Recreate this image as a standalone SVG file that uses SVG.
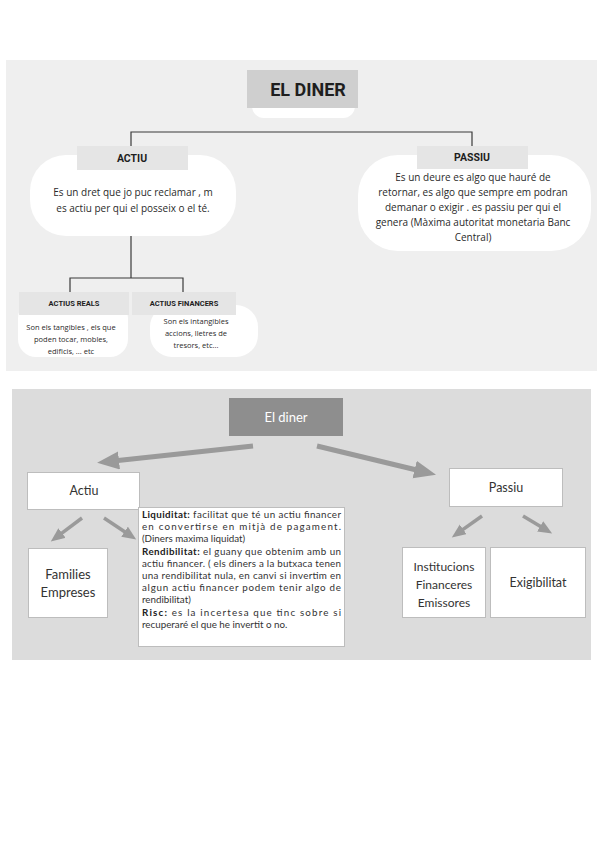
<svg xmlns="http://www.w3.org/2000/svg" width="599" height="848" viewBox="0 0 599 848">
<style>
.t{font-family:"Open Sans","Noto Sans",sans-serif;fill:#2a2a2a}
.lab{font-family:Roboto,"Open Sans",sans-serif;font-weight:bold;fill:#1e1e1e;text-anchor:middle}
.lbl{fill:#e5e5e5}
.pill{fill:#ffffff}
.conn{stroke:#3a3a3a;stroke-width:1.2;fill:none}
.b{font-family:Lato,"Noto Sans",sans-serif;fill:#333}
.box{fill:#ffffff;stroke:#bdbdbd;stroke-width:1}
.arr{stroke:#9a9a9a;fill:none}
</style>
<defs>
<marker id="hb" markerUnits="userSpaceOnUse" markerWidth="24" markerHeight="20" refX="1" refY="9" orient="auto">
<path d="M0,0 L22,9 L0,18 z" fill="#9a9a9a"/>
</marker>
<marker id="hs" markerUnits="userSpaceOnUse" markerWidth="16" markerHeight="14" refX="1" refY="6" orient="auto">
<path d="M0,0 L14,6 L0,12 z" fill="#9a9a9a"/>
</marker>
<clipPath id="cr"><rect x="18" y="300" width="110" height="57" rx="18"/></clipPath>
<clipPath id="cf"><rect x="150" y="305" width="108" height="52" rx="22"/></clipPath>
</defs>

<!-- panels -->
<rect x="6" y="60" width="591" height="311" fill="#efefef"/>
<rect x="12" y="389" width="579" height="271" fill="#dcdcdc"/>

<!-- top connectors -->
<g id="connectors-top">
<path class="conn" d="M131,146 V132 H472 V146"/>
<path class="conn" d="M131,236 V278 M70,292 V278 H183 V292"/>
</g>

<g id="el-diner-top">
<rect class="pill" x="252" y="78" width="103" height="40" rx="12"/>
<rect x="247" y="70" width="111" height="38" fill="#cfcfcf"/>
<text class="lab" x="308" y="96" font-size="18">EL DINER</text>
</g>

<g id="actiu-top">
<rect class="pill" x="30" y="155" width="206" height="81" rx="36"/>
<rect class="lbl" x="77" y="146" width="111" height="24"/>
<text class="lab" x="132" y="162" font-size="10.5">ACTIU</text>
<text class="t" x="133" y="196" font-size="10" text-anchor="middle">Es un dret que jo puc reclamar , m</text>
<text class="t" x="133" y="212" font-size="10" text-anchor="middle">es actiu per qui el posseix o el té.</text>
</g>

<g id="passiu-top">
<rect class="pill" x="358" y="155" width="233" height="96" rx="40"/>
<rect class="lbl" x="417" y="146" width="111" height="23"/>
<text class="lab" x="472" y="161" font-size="10.5">PASSIU</text>
<g class="t" font-size="10" text-anchor="middle">
<text x="473" y="181">Es un deure es algo que hauré de</text>
<text x="473" y="196">retornar, es algo que sempre em podran</text>
<text x="473" y="211">demanar o exigir . es passiu per qui el</text>
<text x="473" y="226">genera (Màxima autoritat monetaria Banc</text>
<text x="473" y="241">Central)</text>
</g>
</g>

<g id="actius-reals">
<rect class="pill" x="18" y="300" width="110" height="57" rx="18"/>
<rect class="lbl" x="19" y="292" width="110" height="23"/>
<text class="lab" x="74" y="306" font-size="7.5">ACTIUS REALS</text>
<g clip-path="url(#cr)" class="t" font-size="7.5" text-anchor="middle">
<text x="71" y="330">Son els tangibles , els que</text>
<text x="71" y="342">poden tocar, mobles,</text>
<text x="71" y="354">edificis, ... etc</text>
</g>
</g>

<g id="actius-financers">
<rect class="pill" x="150" y="305" width="108" height="52" rx="22"/>
<rect class="lbl" x="132" y="292" width="104" height="23"/>
<text class="lab" x="184" y="306" font-size="7.5">ACTIUS FINANCERS</text>
<g clip-path="url(#cf)" class="t" font-size="7.5" text-anchor="middle">
<text x="196" y="324">Son els intangibles</text>
<text x="196" y="336">accions, lletres de</text>
<text x="196" y="348">tresors, etc...</text>
</g>
</g>

<!-- bottom connectors -->
<g id="connectors-bottom">
<line class="arr" stroke-width="5" x1="253" y1="446" x2="118" y2="460.6" marker-end="url(#hb)"/>
<line class="arr" stroke-width="5" x1="317" y1="446" x2="415.6" y2="469.8" marker-end="url(#hb)"/>
<line class="arr" stroke-width="3.5" x1="82" y1="518" x2="61.2" y2="533.6" marker-end="url(#hs)"/>
<line class="arr" stroke-width="3.5" x1="104" y1="518" x2="125.4" y2="532.2" marker-end="url(#hs)"/>
<line class="arr" stroke-width="3.5" x1="482" y1="516" x2="462.4" y2="529.9" marker-end="url(#hs)"/>
<line class="arr" stroke-width="3.5" x1="523" y1="516" x2="541" y2="526.8" marker-end="url(#hs)"/>
</g>

<g id="el-diner">
<rect x="229" y="398" width="114" height="38" fill="#8e8e8e"/>
<text x="286" y="422" font-family="Lato,'Noto Sans',sans-serif" font-size="13" fill="#ffffff" text-anchor="middle">El diner</text>
</g>

<g id="actiu">
<rect class="box" x="27.5" y="472.5" width="112" height="37"/>
<text class="b" x="84" y="495" font-size="12.5" text-anchor="middle">Actiu</text>
</g>

<g id="passiu">
<rect class="box" x="449.5" y="468.5" width="113" height="38"/>
<text class="b" x="506" y="492" font-size="12.5" text-anchor="middle">Passiu</text>
</g>

<g id="families">
<rect class="box" x="28.5" y="548.5" width="79" height="69"/>
<text class="b" x="68" y="579" font-size="13" text-anchor="middle">Families</text>
<text class="b" x="68" y="597" font-size="13" text-anchor="middle">Empreses</text>
</g>

<g id="institucions">
<rect class="box" x="402.5" y="547.5" width="83" height="70"/>
<text class="b" x="444" y="571" font-size="12" text-anchor="middle">Institucions</text>
<text class="b" x="444" y="589" font-size="12" text-anchor="middle">Financeres</text>
<text class="b" x="444" y="607" font-size="12" text-anchor="middle">Emissores</text>
</g>

<g id="exigibilitat">
<rect class="box" x="490.5" y="547.5" width="95" height="70"/>
<text class="b" x="538" y="587" font-size="12.5" text-anchor="middle">Exigibilitat</text>
</g>

<g id="definicions">
<rect class="box" x="138.5" y="507.5" width="206" height="139"/>
<g class="b" font-size="9.8">
<text x="142" y="518" textLength="199" lengthAdjust="spacing"><tspan font-weight="bold" fill="#222">Liquiditat:</tspan> facilitat que té un actiu financer</text>
<text x="142" y="530" textLength="199" lengthAdjust="spacing">en convertirse en mitjà de pagament.</text>
<text x="142" y="542">(Diners maxima liquidat)</text>
<text x="142" y="555" textLength="199" lengthAdjust="spacing"><tspan font-weight="bold" fill="#222">Rendibilitat:</tspan> el guany que obtenim amb un</text>
<text x="142" y="567" textLength="199" lengthAdjust="spacing">actiu financer. ( els diners a la butxaca tenen</text>
<text x="142" y="579" textLength="199" lengthAdjust="spacing">una rendibilitat nula, en canvi si invertim en</text>
<text x="142" y="591" textLength="199" lengthAdjust="spacing">algun actiu financer podem tenir algo de</text>
<text x="142" y="603">rendibilitat)</text>
<text x="142" y="616" textLength="199" lengthAdjust="spacing"><tspan font-weight="bold" fill="#222">Risc:</tspan> es la incertesa que tinc sobre si</text>
<text x="142" y="628">recuperaré el que he invertit o no.</text>
</g>
</g>
</svg>
